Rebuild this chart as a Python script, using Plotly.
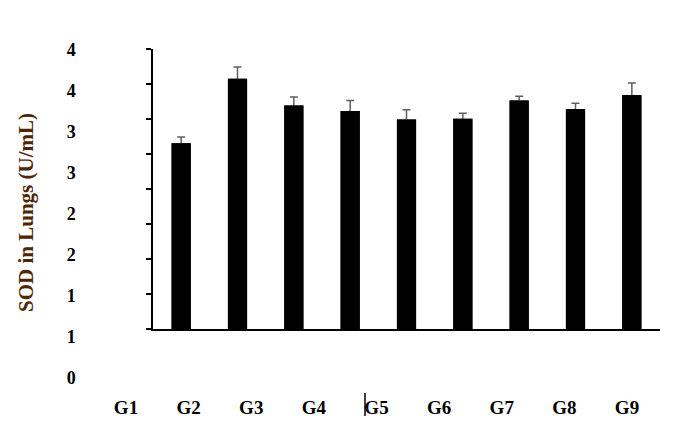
import plotly.graph_objects as go

# ---- data ----
categories = ["G1", "G2", "G3", "G4", "G5", "G6", "G7", "G8", "G9"]
sod_values = [2.65, 3.57, 3.19, 3.11, 2.99, 3.00, 3.26, 3.14, 3.34]
sod_errors = [0.09, 0.17, 0.12, 0.15, 0.14, 0.08, 0.06, 0.08, 0.17]
y_tick_vals = [0, 0.5, 1, 1.5, 2, 2.5, 3, 3.5, 4]
y_tick_text = ["0", "1", "1", "2", "2", "3", "3", "4", "4"]
y_title = "SOD in Lungs (U/mL)"

W, H = 700, 423
def px(x):
    return x / W
def py(y):
    return 1 - y / H

FONT = "Liberation Serif"
TITLE_COLOR = "#4d2608"

fig = go.Figure()
# bars with error bars
fig.add_trace(go.Bar(
    x=categories, y=sod_values,
    marker=dict(color="black", line=dict(width=0)),
    error_y=dict(type="data", array=sod_errors, visible=True,
                 color="#5f5f5f", thickness=1.5, width=4),
    showlegend=False, hoverinfo="skip",
))
# same bars again on top, hiding the lower halves of the error bars
fig.add_trace(go.Bar(
    x=categories, y=sod_values,
    marker=dict(color="black", line=dict(width=0)),
    showlegend=False,
))
# empty trace so the offset label axes get drawn
fig.add_trace(go.Scatter(x=[], y=[], xaxis="x2", yaxis="y2",
                         showlegend=False, hoverinfo="skip"))

fig.update_layout(
    template="none",
    width=W, height=H,
    margin=dict(l=0, r=0, t=0, b=0),
    paper_bgcolor="white", plot_bgcolor="rgba(0,0,0,0)",
    barmode="overlay",
    bargap=0.66,
    showlegend=False,
    xaxis=dict(
        domain=[px(153), px(660)], anchor="y",
        type="category", range=[-0.5, len(categories) - 0.5],
        showticklabels=False, ticks="", showgrid=False, zeroline=False,
        showline=True, linecolor="black", linewidth=2,
        automargin=False,
    ),
    yaxis=dict(
        domain=[py(329), py(48.7)], anchor="x",
        range=[0, 4], tickmode="array", tickvals=y_tick_vals,
        showticklabels=False, ticks="outside", ticklen=5, tickwidth=2,
        tickcolor="black", showgrid=False, zeroline=False,
        showline=True, linecolor="black", linewidth=2,
        automargin=False,
    ),
    # separate label axes (labels sit offset from the plotting frame)
    xaxis2=dict(
        domain=[px(94.7), px(658.3)], anchor="y2",
        range=[-0.5, len(categories) - 0.5],
        tickmode="array", tickvals=list(range(len(categories))),
        ticktext=categories, ticks="", ticklabelstandoff=16,
        tickfont=dict(family=FONT, size=19, color="black", weight="bold"),
        showgrid=False, zeroline=False, showline=False,
        automargin=False,
    ),
    yaxis2=dict(
        domain=[py(378), py(50)], anchor="x2",
        range=[0, 4], tickmode="array", tickvals=y_tick_vals,
        ticktext=y_tick_text, ticks="", ticklabelstandoff=18,
        tickfont=dict(family=FONT, size=18, color="black", weight="bold"),
        showgrid=False, zeroline=False, showline=False,
        automargin=False,
    ),
    annotations=[dict(
        text=y_title, xref="paper", yref="paper",
        x=px(26), y=py(213), xanchor="center", yanchor="middle",
        textangle=-90, showarrow=False,
        font=dict(family=FONT, size=21, color=TITLE_COLOR, weight="bold"),
    )],
    shapes=[dict(
        type="line", xref="paper", yref="paper",
        x0=px(365), x1=px(365), y0=py(393), y1=py(416),
        line=dict(color="black", width=1.5),
    )],
)

fig.write_html("out.html", config={"displayModeBar": False},
               post_script="document.body.style.margin='0';")
